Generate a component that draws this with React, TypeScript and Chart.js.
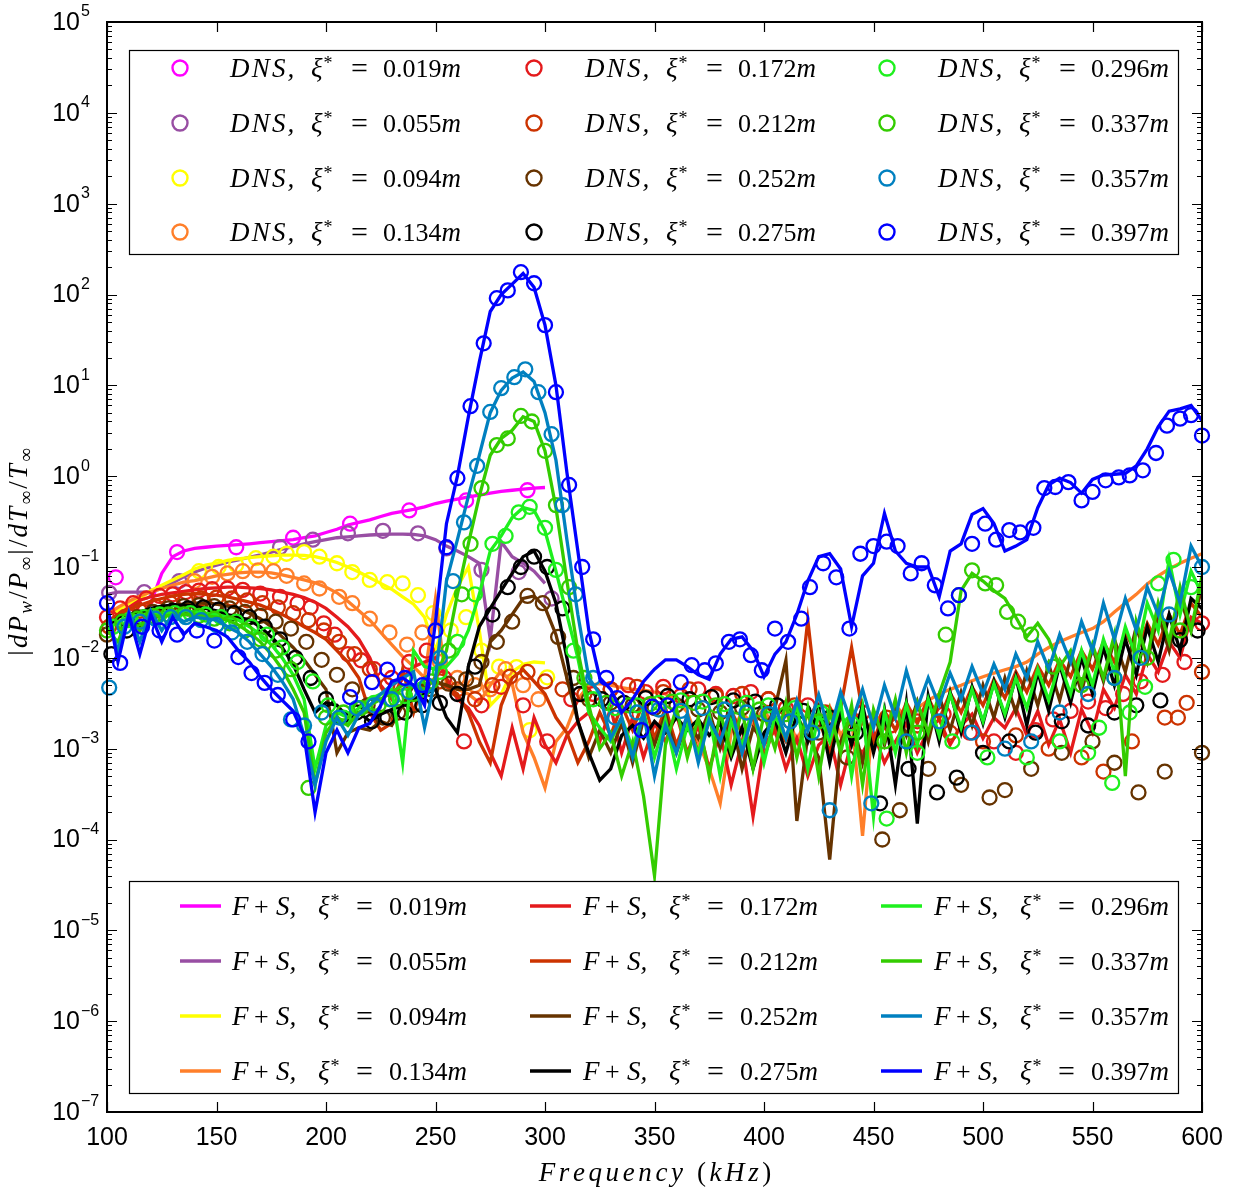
import { useEffect, useRef } from 'react';
import { Chart, registerables } from 'chart.js';

Chart.register(...registerables);

// Frequency grid (kHz) shared by the F+S curves
const FREQ_KHZ = [
  100, 105, 110, 115, 120, 125, 130, 135, 140, 145, 150, 155, 160, 165, 170, 175, 180, 185, 190, 195,
  200, 205, 210, 215, 220, 225, 230, 235, 240, 245, 250, 255, 260, 265, 270, 275, 280, 285, 290, 295,
  300, 305, 310, 315, 320, 325, 330, 335, 340, 345, 350, 355, 360, 365, 370, 375, 380, 385, 390, 395,
  400, 405, 410, 415, 420, 425, 430, 435, 440, 445, 450, 455, 460, 465, 470, 475, 480, 485, 490, 495,
  500, 505, 510, 515, 520, 525, 530, 535, 540, 545, 550, 555, 560, 565, 570, 575, 580, 585, 590, 595,
  600,
];

// F+S spectra |dPw/Pinf|/dTinf/Tinf, one value per FREQ_KHZ entry (shorter curves stop early)
const FS_019 = [
  0.03, 0.034, 0.032, 0.02, 0.04, 0.085, 0.13, 0.15, 0.16, 0.165, 0.17, 0.173, 0.176, 0.18, 0.185, 0.19,
  0.195, 0.2, 0.21, 0.22, 0.24, 0.26, 0.29, 0.31, 0.33, 0.36, 0.39, 0.41, 0.43, 0.46, 0.5, 0.53, 0.56,
  0.59, 0.62, 0.65, 0.68, 0.7, 0.72, 0.74, 0.75,
];
const FS_055 = [
  0.05, 0.053, 0.053, 0.053, 0.053, 0.058, 0.067, 0.078, 0.088, 0.097, 0.105, 0.113, 0.12, 0.128, 0.136,
  0.146, 0.157, 0.168, 0.18, 0.19, 0.2, 0.21, 0.215, 0.22, 0.225, 0.228, 0.23, 0.23, 0.228, 0.22, 0.2,
  0.17, 0.15, 0.13, 0.11, 0.016, 0.19, 0.13, 0.11, 0.09, 0.066,
];
const FS_094 = [
  0.03, 0.033, 0.04, 0.045, 0.055, 0.063, 0.072, 0.082, 0.095, 0.105, 0.11, 0.118, 0.123, 0.127, 0.13,
  0.133, 0.135, 0.135, 0.134, 0.13, 0.122, 0.112, 0.1, 0.088, 0.076, 0.066, 0.057, 0.047, 0.039, 0.028,
  0.012, 0.03, 0.06, 0.1, 0.02, 0.003, 0.004, 0.007, 0.0085, 0.009, 0.0088,
];
const FS_134 = [
  0.03, 0.036, 0.042, 0.048, 0.053, 0.058, 0.063, 0.068, 0.071, 0.075, 0.08, 0.083, 0.086, 0.088, 0.088,
  0.086, 0.082, 0.077, 0.072, 0.067, 0.06, 0.052, 0.042, 0.033, 0.026, 0.019, 0.014, 0.0103, 0.008, 0.006,
  0.045, 0.005, 0.0045, 0.004, 0.0032, 0.005, 0.0072, 0.0052, 0.0015, 0.0008, 0.00037, 0.0012, 0.0017, 0.0035,
  0.005, 0.0052, 0.005, 0.0047, 0.0045, 0.0044, 0.0042, 0.004, 0.0035, 0.0025, 0.0012, 0.0006, 0.00025,
  0.0015, 0.0025, 0.0018, 0.0028, 0.0015, 0.0026, 0.0012, 0.0024, 0.0016, 0.0029, 0.0014, 0.0022, 0.00011,
  0.0025, 0.0018, 0.003, 0.0022, 0.0028, 0.0034, 0.004, 0.0045, 0.005, 0.0056, 0.0062, 0.0068, 0.0074,
  0.008, 0.009, 0.011, 0.013, 0.015, 0.017, 0.019, 0.021, 0.025, 0.032, 0.04, 0.05, 0.065, 0.08, 0.095,
  0.11, 0.125, 0.14,
];
const FS_172 = [
  0.02, 0.03, 0.036, 0.043, 0.047, 0.05, 0.052, 0.054, 0.056, 0.058, 0.059, 0.06, 0.06, 0.059, 0.058,
  0.056, 0.053, 0.05, 0.046, 0.041, 0.035, 0.028, 0.022, 0.016, 0.01, 0.005, 0.0035, 0.006, 0.008, 0.009,
  0.01, 0.006, 0.0035, 0.0028, 0.0018, 0.0009, 0.0005, 0.0017, 0.0006, 0.0022, 0.0011, 0.0007, 0.0014, 0.002,
  0.0025, 0.0012, 0.0028, 0.0009, 0.0022, 0.0008, 0.0019, 0.0012, 0.0024, 0.0009, 0.0018, 0.0006, 0.0015,
  0.0004, 0.0012, 0.00018, 0.0011, 0.0016, 0.0006, 0.0013, 0.0005, 0.0011, 0.0014, 0.0004, 0.0012, 0.0009,
  0.0015, 0.0007, 0.0012, 0.0019, 0.0009, 0.0016, 0.0021, 0.0011, 0.0018, 0.0024, 0.0013, 0.0022, 0.0017,
  0.0028, 0.0014, 0.0026, 0.0011, 0.0021, 0.0009, 0.0027, 0.0015, 0.0045, 0.0028, 0.0065, 0.004, 0.011,
  0.007, 0.015, 0.01, 0.028, 0.024,
];
const FS_212 = [
  0.025, 0.03, 0.034, 0.038, 0.042, 0.045, 0.048, 0.05, 0.051, 0.05, 0.049, 0.047, 0.044, 0.041, 0.038,
  0.034, 0.03, 0.026, 0.022, 0.019, 0.016, 0.012, 0.009, 0.006, 0.0025, 0.0016, 0.0019, 0.0075, 0.0025,
  0.006, 0.0055, 0.0048, 0.004, 0.0025, 0.0012, 0.0007, 0.003, 0.006, 0.0074, 0.0055, 0.004, 0.0022, 0.0015,
  0.0007, 0.0012, 0.0025, 0.0014, 0.003, 0.0016, 0.0033, 0.0013, 0.0028, 0.0011, 0.0023, 0.0009, 0.002,
  0.0012, 0.0026, 0.0015, 0.0022, 0.0008, 0.0018, 0.0012, 0.0021, 0.026, 0.0022, 0.0009, 0.0028, 0.013,
  0.0025, 0.0012, 0.0026, 0.0016, 0.0032, 0.0019, 0.0036, 0.0021, 0.0041, 0.0025, 0.0048, 0.003, 0.0058,
  0.0036, 0.007, 0.0042, 0.0082, 0.005, 0.0095, 0.0062, 0.012, 0.0075, 0.015, 0.009, 0.019, 0.011, 0.024,
  0.014, 0.03, 0.018, 0.04, 0.028,
];
const FS_252 = [
  0.02, 0.028, 0.03, 0.032, 0.034, 0.036, 0.038, 0.039, 0.04, 0.04, 0.039, 0.037, 0.035, 0.031, 0.027,
  0.022, 0.017, 0.013, 0.0095, 0.0065, 0.0045, 0.0009, 0.0015, 0.0017, 0.0016, 0.002, 0.0018, 0.003, 0.005,
  0.005, 0.0055, 0.005, 0.0045, 0.0045, 0.005, 0.015, 0.02, 0.03, 0.045, 0.048, 0.036, 0.018, 0.006, 0.002,
  0.0008, 0.0016, 0.0009, 0.0019, 0.0007, 0.0021, 0.0011, 0.0024, 0.0009, 0.002, 0.0013, 0.0026, 0.001,
  0.0022, 0.0006, 0.0017, 0.0012, 0.0028, 0.0094, 0.00016, 0.0014, 0.0008, 0.00006, 0.0012, 0.0022, 0.0007,
  0.0025, 0.0011, 0.003, 0.0014, 0.0033, 0.0012, 0.0038, 0.0016, 0.0042, 0.0018, 0.005, 0.0022, 0.006,
  0.0025, 0.0072, 0.003, 0.0085, 0.0034, 0.01, 0.0042, 0.013, 0.0055, 0.016, 0.007, 0.022, 0.009, 0.03,
  0.012, 0.045, 0.02, 0.06,
];
const FS_275 = [
  0.02, 0.028, 0.03, 0.032, 0.035, 0.037, 0.038, 0.038, 0.037, 0.035, 0.033, 0.03, 0.028, 0.026, 0.022,
  0.017, 0.013, 0.0085, 0.0045, 0.0025, 0.0032, 0.003, 0.0022, 0.0025, 0.002, 0.0024, 0.0027, 0.003,
  0.0035, 0.004, 0.0045, 0.0022, 0.0015, 0.008, 0.022, 0.035, 0.055, 0.085, 0.13, 0.15, 0.09, 0.04, 0.01,
  0.002, 0.0009, 0.00045, 0.0006, 0.0014, 0.0018, 0.0013, 0.002, 0.0015, 0.0022, 0.0016, 0.0021, 0.0014,
  0.0019, 0.0008, 0.0017, 0.0006, 0.0015, 0.0021, 0.0009, 0.0024, 0.0012, 0.0028, 0.0007, 0.0025, 0.0011,
  0.003, 0.0009, 0.0027, 0.0004, 0.0032, 0.00015, 0.0038, 0.0012, 0.0042, 0.0015, 0.0048, 0.0019, 0.0055,
  0.0022, 0.0062, 0.0018, 0.007, 0.0026, 0.0085, 0.0032, 0.01, 0.004, 0.013, 0.005, 0.016, 0.0065, 0.022,
  0.009, 0.03, 0.012, 0.045, 0.035,
];
const FS_296 = [
  0.02, 0.025, 0.028, 0.03, 0.03, 0.031, 0.032, 0.033, 0.032, 0.031, 0.03, 0.028, 0.026, 0.022, 0.018,
  0.014, 0.01, 0.0065, 0.0035, 0.0006, 0.0018, 0.0025, 0.0022, 0.0028, 0.0035, 0.004, 0.0045, 0.0007,
  0.012, 0.008, 0.0075, 0.008, 0.011, 0.02, 0.05, 0.15, 0.22, 0.35, 0.45, 0.42, 0.25, 0.09, 0.03, 0.01,
  0.0025, 0.0017, 0.0012, 0.0022, 0.001, 0.0026, 0.0008, 0.0021, 0.0006, 0.0018, 0.0009, 0.0024, 0.0005,
  0.002, 0.0011, 0.0028, 0.0007, 0.0023, 0.0013, 0.003, 0.0006, 0.0025, 0.0012, 0.0032, 0.0005, 0.0028,
  0.00018, 0.0026, 0.0009, 0.0031, 0.0011, 0.0035, 0.0014, 0.004, 0.0017, 0.0045, 0.002, 0.0052, 0.0024,
  0.006, 0.0028, 0.0075, 0.0034, 0.009, 0.004, 0.012, 0.005, 0.016, 0.007, 0.022, 0.01, 0.04, 0.02, 0.12,
  0.03, 0.09, 0.05,
];
const FS_337 = [
  0.02, 0.015, 0.03, 0.02, 0.03, 0.028, 0.03, 0.03, 0.03, 0.029, 0.028, 0.026, 0.023, 0.019, 0.015, 0.011,
  0.0075, 0.0045, 0.0025, 0.0004, 0.0015, 0.0022, 0.0018, 0.0025, 0.003, 0.0035, 0.0042, 0.005, 0.005,
  0.0045, 0.006, 0.012, 0.05, 0.18, 0.6, 1.7, 2.6, 3.2, 4.5, 4.0, 1.9, 0.45, 0.07, 0.012,
  0.003, 0.001, 0.0015, 0.0005, 0.0012, 0.0003, 0.00004, 0.0011, 0.0028, 0.0008, 0.0022, 0.0005, 0.0025,
  0.0009, 0.0027, 0.0006, 0.0024, 0.001, 0.0032, 0.0008, 0.0028, 0.0005, 0.0026, 0.0009, 0.003, 0.0004,
  0.0027, 0.0012, 0.0035, 0.0009, 0.0032, 0.0015, 0.004, 0.009, 0.055, 0.085, 0.07, 0.055, 0.045, 0.028,
  0.017, 0.024, 0.016, 0.008, 0.012, 0.005, 0.014, 0.006, 0.018, 0.0005, 0.025, 0.01, 0.04, 0.015, 0.06,
  0.02, 0.08,
];
const FS_357 = [
  0.03, 0.012, 0.032, 0.015, 0.033, 0.02, 0.03, 0.025, 0.028, 0.027, 0.026, 0.022, 0.019, 0.015, 0.011,
  0.008, 0.0055, 0.0035, 0.0014, 0.0004, 0.0012, 0.0022, 0.0014, 0.0024, 0.003, 0.004, 0.005, 0.006, 0.007,
  0.0017, 0.006, 0.07, 0.2, 0.6, 1.7, 5, 8.8, 12, 14, 11, 5, 1.5, 0.2, 0.03,
  0.006, 0.004, 0.0013, 0.0022, 0.0008, 0.0025, 0.0005, 0.0018, 0.0009, 0.0024, 0.0007, 0.0021, 0.0012,
  0.0028, 0.0009, 0.0025, 0.0011, 0.003, 0.0013, 0.0034, 0.0016, 0.0039, 0.0015, 0.0042, 0.0019, 0.0045,
  0.0017, 0.005, 0.0022, 0.0072, 0.0028, 0.006, 0.003, 0.0068, 0.0035, 0.008, 0.004, 0.0085, 0.0045, 0.011,
  0.006, 0.015, 0.0075, 0.018, 0.009, 0.025, 0.012, 0.04, 0.016, 0.045, 0.02, 0.06, 0.03, 0.09, 0.04, 0.17,
  0.1,
];
const FS_397 = [
  0.04, 0.009, 0.03, 0.011, 0.03, 0.015, 0.028, 0.018, 0.024, 0.022, 0.02, 0.017, 0.012, 0.009, 0.0062,
  0.0045, 0.0034, 0.0026, 0.0014, 0.0002, 0.0009, 0.0016, 0.0009, 0.0017, 0.0019, 0.003, 0.0055, 0.006,
  0.005, 0.003, 0.025, 0.3, 1.0, 4.5, 18, 65, 100, 130, 170, 120, 46, 10, 1.1, 0.15,
  0.02, 0.006, 0.0045, 0.0025, 0.0035, 0.0055, 0.0075, 0.0095, 0.0095, 0.008, 0.0065, 0.0058, 0.011, 0.016,
  0.017, 0.012, 0.0062, 0.011, 0.015, 0.03, 0.07, 0.13, 0.14, 0.095, 0.022, 0.08, 0.11, 0.39, 0.15, 0.11,
  0.1, 0.1, 0.047, 0.15, 0.18, 0.38, 0.44, 0.3, 0.15, 0.17, 0.2, 0.45, 0.8, 0.95, 0.85, 0.65, 0.92, 1.03,
  1.05, 1.07, 1.3, 2.0, 3.5, 5.2, 5.5, 6.0, 4.1,
];

// DNS samples as [frequency kHz, value]
const DNS_019 = [[104, 0.077], [132, 0.146], [159, 0.165], [185, 0.21], [211, 0.3], [238, 0.42], [264, 0.54], [292, 0.7]];
const DNS_055 = [
  [101, 0.052], [117, 0.053], [133, 0.07], [179, 0.165], [194, 0.2], [210, 0.235], [226, 0.25], [242, 0.235],
  [255, 0.16], [271, 0.093], [288, 0.088], [303, 0.045],
];
const DNS_094 = [
  [142, 0.09], [151, 0.1], [159, 0.105], [168, 0.125], [176, 0.13], [182, 0.14], [190, 0.146], [197, 0.13],
  [205, 0.11], [212, 0.088], [220, 0.072], [228, 0.068], [235, 0.066], [242, 0.049], [249, 0.031], [257, 0.02],
  [264, 0.028], [271, 0.012], [279, 0.008], [287, 0.0079], [293, 0.0016], [301, 0.0061],
];
const DNS_134 = [
  [140, 0.07], [148, 0.078], [155, 0.085], [162, 0.09], [169, 0.092], [176, 0.09], [182, 0.08], [190, 0.066],
  [197, 0.058], [206, 0.047], [212, 0.04], [220, 0.027], [229, 0.019], [237, 0.014], [244, 0.019], [252, 0.009],
  [260, 0.006], [268, 0.005], [275, 0.0045], [282, 0.0075], [290, 0.005], [297, 0.0035],
];
const DNS_172 = [
  [100, 0.028], [106, 0.035], [112, 0.04], [118, 0.045], [124, 0.048], [130, 0.05], [136, 0.053], [142, 0.055],
  [148, 0.057], [155, 0.058], [162, 0.056], [170, 0.051], [179, 0.047], [187, 0.04], [193, 0.036], [199, 0.024],
  [204, 0.018], [210, 0.011], [216, 0.0094], [222, 0.0075], [230, 0.006], [238, 0.009], [246, 0.012], [254, 0.006],
  [263, 0.0012], [271, 0.003], [280, 0.0048], [290, 0.003], [301, 0.0012], [312, 0.0035], [322, 0.004], [330, 0.0045],
  [338, 0.005], [346, 0.0042], [354, 0.0048], [362, 0.0038], [370, 0.0045], [378, 0.004], [386, 0.0038], [394, 0.0042],
  [402, 0.0035], [410, 0.0028], [420, 0.003], [432, 0.0022], [445, 0.0025], [458, 0.0018], [470, 0.002], [482, 0.0024],
  [494, 0.0015], [505, 0.0012], [515, 0.0009], [524, 0.0016], [532, 0.0021], [540, 0.0026], [548, 0.0033], [556, 0.0028],
  [564, 0.004], [572, 0.0055], [582, 0.0065], [592, 0.009], [600, 0.024],
];
const DNS_212 = [
  [101, 0.022], [108, 0.028], [115, 0.033], [122, 0.037], [129, 0.04], [136, 0.043], [143, 0.045], [150, 0.046],
  [157, 0.045], [164, 0.043], [171, 0.04], [178, 0.036], [185, 0.031], [192, 0.026], [199, 0.02], [206, 0.015],
  [213, 0.011], [220, 0.0075], [228, 0.005], [236, 0.0038], [244, 0.0045], [252, 0.0055], [260, 0.0045], [268, 0.0035],
  [276, 0.005], [284, 0.0062], [292, 0.007], [300, 0.0055], [308, 0.0045], [318, 0.004], [330, 0.0045], [342, 0.0048],
  [354, 0.0042], [366, 0.0045], [378, 0.0038], [390, 0.004], [402, 0.0035], [414, 0.003], [428, 0.0025], [442, 0.002],
  [456, 0.0022], [470, 0.0018], [485, 0.0015], [500, 0.0012], [515, 0.0014], [530, 0.001], [545, 0.0008], [555, 0.00056],
  [568, 0.0012], [583, 0.0022], [589, 0.0022], [593, 0.0032], [600, 0.007],
];
const DNS_252 = [
  [100, 0.018], [107, 0.025], [114, 0.028], [121, 0.032], [128, 0.035], [135, 0.037], [142, 0.038], [149, 0.037],
  [156, 0.035], [163, 0.032], [170, 0.029], [177, 0.025], [184, 0.021], [191, 0.015], [198, 0.0095], [205, 0.0065],
  [212, 0.0045], [219, 0.003], [226, 0.0022], [233, 0.0025], [240, 0.003], [248, 0.0045], [256, 0.0052], [264, 0.0058],
  [271, 0.009], [278, 0.015], [285, 0.025], [292, 0.048], [299, 0.04], [306, 0.017], [313, 0.006], [320, 0.0035],
  [330, 0.0032], [340, 0.003], [350, 0.0028], [360, 0.003], [370, 0.0027], [380, 0.0025], [390, 0.0028], [400, 0.0024],
  [412, 0.002], [425, 0.0015], [438, 0.0008], [454, 0.0001], [462, 0.00021], [475, 0.0006], [490, 0.0004], [503, 0.00029],
  [510, 0.00035], [522, 0.0006], [536, 0.0009], [550, 0.0012], [560, 0.0007], [571, 0.00033], [583, 0.00056], [600, 0.0009],
];
const DNS_275 = [
  [102, 0.011], [109, 0.02], [116, 0.026], [123, 0.03], [130, 0.033], [137, 0.035], [144, 0.036], [151, 0.034],
  [158, 0.031], [165, 0.028], [172, 0.022], [179, 0.016], [186, 0.01], [193, 0.006], [200, 0.0035], [207, 0.0022],
  [214, 0.0025], [221, 0.002], [228, 0.0022], [236, 0.0025], [244, 0.003], [252, 0.0032], [260, 0.004], [268, 0.008],
  [276, 0.03], [283, 0.06], [289, 0.1], [295, 0.13], [301, 0.1], [308, 0.035], [316, 0.004], [326, 0.0035],
  [336, 0.0032], [346, 0.0036], [356, 0.0038], [366, 0.0035], [376, 0.0037], [386, 0.0034], [396, 0.0033], [406, 0.003],
  [418, 0.0026], [430, 0.0022], [442, 0.0015], [453, 0.00025], [466, 0.0006], [479, 0.00033], [488, 0.00048], [500, 0.0009],
  [512, 0.0012], [524, 0.0015], [536, 0.002], [548, 0.0018], [560, 0.0025], [570, 0.003], [581, 0.0034], [590, 0.0157],
  [598, 0.02],
];
const DNS_296 = [
  [103, 0.022], [110, 0.026], [117, 0.028], [124, 0.03], [131, 0.031], [138, 0.031], [145, 0.03], [152, 0.028],
  [159, 0.025], [166, 0.022], [173, 0.018], [180, 0.013], [187, 0.009], [194, 0.0055], [201, 0.003], [208, 0.0022],
  [215, 0.0028], [222, 0.0032], [229, 0.0035], [236, 0.0038], [244, 0.0045], [252, 0.007], [260, 0.015], [268, 0.05],
  [276, 0.18], [282, 0.22], [288, 0.4], [293, 0.46], [300, 0.27], [305, 0.093], [313, 0.012], [322, 0.0035],
  [332, 0.0028], [342, 0.003], [352, 0.0032], [362, 0.0034], [372, 0.0033], [382, 0.0031], [392, 0.0032], [402, 0.003],
  [414, 0.0028], [426, 0.0025], [440, 0.0019], [456, 0.00017], [470, 0.0009], [486, 0.0012], [502, 0.0008], [520, 0.0008],
  [535, 0.0012], [548, 0.0009], [553, 0.0017], [559, 0.00042], [567, 0.0025], [574, 0.0048], [580, 0.066], [587, 0.12],
  [595, 0.06],
];
const DNS_337 = [
  [100, 0.02], [107, 0.025], [114, 0.027], [121, 0.029], [128, 0.03], [135, 0.03], [142, 0.029], [149, 0.027],
  [156, 0.024], [163, 0.02], [170, 0.016], [177, 0.012], [184, 0.0075], [192, 0.00037], [200, 0.0022], [208, 0.0025],
  [216, 0.0028], [224, 0.003], [232, 0.0035], [240, 0.004], [248, 0.0055], [256, 0.012], [262, 0.05], [266, 0.18],
  [271, 0.74], [278, 2.2], [283, 2.6], [289, 4.6], [294, 4.0], [300, 1.9], [305, 0.48], [311, 0.06],
  [318, 0.006], [328, 0.0032], [338, 0.003], [348, 0.0031], [358, 0.0033], [368, 0.0032], [378, 0.003], [388, 0.0029],
  [398, 0.0027], [410, 0.0024], [425, 0.002], [440, 0.0016], [455, 0.0012], [470, 0.0015], [483, 0.018], [489, 0.049],
  [495, 0.092], [501, 0.066], [506, 0.063], [511, 0.032], [516, 0.025], [522, 0.018], [532, 0.008], [545, 0.005],
  [560, 0.006], [575, 0.01], [590, 0.02],
];
const DNS_357 = [
  [101, 0.0047], [108, 0.022], [115, 0.025], [122, 0.027], [129, 0.028], [136, 0.028], [143, 0.026], [150, 0.023],
  [157, 0.019], [164, 0.015], [171, 0.011], [178, 0.0065], [184, 0.0021], [190, 0.0018], [198, 0.0025], [206, 0.0022],
  [214, 0.0028], [222, 0.003], [230, 0.0035], [238, 0.0042], [246, 0.005], [252, 0.01], [258, 0.07], [263, 0.31],
  [269, 1.3], [275, 5.1], [280, 9.3], [286, 12.3], [291, 15], [297, 8.4], [303, 2.9], [308, 0.48],
  [314, 0.05], [322, 0.006], [332, 0.0022], [342, 0.0025], [352, 0.0027], [362, 0.0026], [372, 0.0028], [382, 0.0027],
  [392, 0.0025], [402, 0.0024], [412, 0.002], [422, 0.0015], [430, 0.00021], [449, 0.00025], [465, 0.0012], [480, 0.002],
  [495, 0.0015], [510, 0.001], [522, 0.0012], [535, 0.0025], [548, 0.004], [560, 0.006], [572, 0.01], [585, 0.03],
  [600, 0.1],
];
const DNS_397 = [
  [100, 0.04], [106, 0.0088], [116, 0.022], [124, 0.02], [132, 0.018], [141, 0.02], [149, 0.0155], [160, 0.0102],
  [166, 0.0068], [172, 0.0053], [178, 0.0039], [185, 0.0021], [192, 0.0012], [211, 0.0037], [221, 0.0054], [228, 0.0074],
  [236, 0.006], [244, 0.005], [250, 0.02], [255, 0.165], [260, 0.95], [266, 5.9], [272, 29], [278, 91],
  [283, 111], [289, 176], [295, 133], [300, 46], [305, 8.4], [311, 0.8], [317, 0.1], [322, 0.016],
  [328, 0.006], [333, 0.0036], [344, 0.0016], [349, 0.0029], [356, 0.003], [362, 0.0054], [367, 0.0083], [373, 0.0073],
  [378, 0.0087], [384, 0.015], [389, 0.016], [394, 0.0107], [399, 0.0073], [405, 0.021], [411, 0.015], [417, 0.027],
  [421, 0.06], [427, 0.11], [433, 0.077], [439, 0.021], [444, 0.14], [450, 0.17], [456, 0.19], [461, 0.17],
  [467, 0.085], [472, 0.11], [478, 0.063], [484, 0.035], [489, 0.049], [495, 0.18], [501, 0.3], [506, 0.2],
  [512, 0.255], [517, 0.24], [523, 0.27], [528, 0.74], [533, 0.76], [539, 0.86], [545, 0.54], [550, 0.67],
  [556, 0.9], [562, 0.97], [567, 1.02], [573, 1.16], [579, 1.8], [584, 3.6], [590, 4.3], [595, 4.7],
  [600, 2.8],
];

// Streamwise stations (xi*, in metres) in legend order
const STATION_LABELS = ['0.019', '0.055', '0.094', '0.134', '0.172', '0.212', '0.252', '0.275', '0.296', '0.337', '0.357', '0.397'];
const STATION_COLORS = [
  '#FF00FF', '#984EA3', '#FFFF00', '#FF7F2A', '#E41A1C', '#CC3300',
  '#663300', '#000000', '#1EF01E', '#33CC00', '#0080C0', '#0000FF',
];
const FS_SERIES = [FS_019, FS_055, FS_094, FS_134, FS_172, FS_212, FS_252, FS_275, FS_296, FS_337, FS_357, FS_397];
const DNS_SERIES = [DNS_019, DNS_055, DNS_094, DNS_134, DNS_172, DNS_212, DNS_252, DNS_275, DNS_296, DNS_337, DNS_357, DNS_397];

const X_TICKS = [100, 150, 200, 250, 300, 350, 400, 450, 500, 550, 600];
const Y_DECADES = [-7, -6, -5, -4, -3, -2, -1, 0, 1, 2, 3, 4, 5];

const SANS = '"Liberation Sans", Arial, sans-serif';
const SERIF = '"Liberation Serif", "Times New Roman", serif';

type Seg = { t: string; it?: boolean; size?: number; dy?: number };

// Text runs drawn character by character with extra tracking (math-italic look).
function runWidth(ctx: CanvasRenderingContext2D, segs: Seg[], base: number, track: number) {
  let w = 0;
  let n = 0;
  for (const s of segs) {
    ctx.font = `${s.it ? 'italic ' : ''}${s.size ?? base}px ${SERIF}`;
    for (const ch of s.t) {
      w += ctx.measureText(ch).width;
      n++;
    }
  }
  return w + track * (n - 1);
}
function drawRun(ctx: CanvasRenderingContext2D, segs: Seg[], x: number, y: number, base: number, track: number) {
  let cx = x;
  for (const s of segs) {
    ctx.font = `${s.it ? 'italic ' : ''}${s.size ?? base}px ${SERIF}`;
    for (const ch of s.t) {
      ctx.fillText(ch, cx, y + (s.dy ?? 0));
      cx += ctx.measureText(ch).width + track;
    }
  }
}

function drawLegendText(ctx: CanvasRenderingContext2D, kind: 'DNS' | 'FS', x0: number, yc: number, value: string) {
  const by = yc + 9;
  const it = `italic 27px ${SERIF}`;
  const up = `26px ${SERIF}`;
  ctx.fillStyle = '#000';
  ctx.textAlign = 'left';
  ctx.textBaseline = 'alphabetic';
  let offXi: number;
  let offEq: number;
  let offVal: number;
  if (kind === 'DNS') {
    drawRun(ctx, [{ t: 'DNS,', it: true, size: 27 }], x0, by, 27, 2.2);
    offXi = 81;
    offEq = 121;
    offVal = 153;
  } else {
    ctx.font = it;
    ctx.fillText('F', x0, by);
    ctx.font = up;
    ctx.fillText('+', x0 + 22, by);
    ctx.font = it;
    ctx.fillText('S,', x0 + 44, by);
    offXi = 86;
    offEq = 124;
    offVal = 157;
  }
  ctx.font = it;
  ctx.fillText('\u03BE', x0 + offXi, by);
  const wXi = ctx.measureText('\u03BE').width;
  ctx.font = `18px ${SERIF}`;
  ctx.fillText('*', x0 + offXi + wXi + 1, by - 8);
  ctx.font = `30px ${SERIF}`;
  ctx.fillText('=', x0 + offEq, by + 1);
  ctx.font = up;
  ctx.fillText(value, x0 + offVal, by);
  const wv = ctx.measureText(value).width;
  ctx.font = it;
  ctx.fillText('m', x0 + offVal + wv, by);
}

const decorations = {
  id: 'frameLegendsLabels',
  beforeDraw(chart: Chart) {
    const { ctx, width, height } = chart;
    ctx.save();
    ctx.fillStyle = '#fff';
    ctx.fillRect(0, 0, width, height);
    ctx.restore();
  },
  afterDraw(chart: Chart) {
    const { ctx, chartArea: a } = chart;
    const xs = chart.scales.x;
    const ys = chart.scales.y;
    ctx.save();

    // Legend boxes
    const colsDNS = [{ m: 180, t: 230 }, { m: 534, t: 585 }, { m: 887, t: 938 }];
    const rowsDNS = [68, 123, 178, 232];
    const colsFS = [{ m0: 180, m1: 221, t: 232 }, { m0: 530, m1: 571, t: 583 }, { m0: 881, m1: 922, t: 934 }];
    const rowsFS = [906, 961, 1016, 1071];
    ctx.fillStyle = '#fff';
    ctx.strokeStyle = '#000';
    ctx.lineWidth = 1.2;
    ctx.fillRect(129, 50, 1049, 204);
    ctx.strokeRect(129.5, 50.5, 1049, 204);
    ctx.fillRect(129, 881, 1049, 212);
    ctx.strokeRect(129.5, 881.5, 1049, 212);

    STATION_LABELS.forEach((lab, i) => {
      const c = Math.floor(i / 4);
      const r = i % 4;
      ctx.strokeStyle = STATION_COLORS[i];
      ctx.lineWidth = 2.4;
      ctx.beginPath();
      ctx.arc(colsDNS[c].m, rowsDNS[r], 7.5, 0, Math.PI * 2);
      ctx.stroke();
      drawLegendText(ctx, 'DNS', colsDNS[c].t, rowsDNS[r], lab);
      ctx.strokeStyle = STATION_COLORS[i];
      ctx.lineWidth = 3.5;
      ctx.beginPath();
      ctx.moveTo(colsFS[c].m0, rowsFS[r]);
      ctx.lineTo(colsFS[c].m1, rowsFS[r]);
      ctx.stroke();
      drawLegendText(ctx, 'FS', colsFS[c].t, rowsFS[r], lab);
    });

    // Frame
    ctx.strokeStyle = '#000';
    ctx.lineWidth = 2;
    ctx.strokeRect(a.left, a.top, a.right - a.left, a.bottom - a.top);

    // Ticks (inward, all sides)
    ctx.lineWidth = 1.2;
    ctx.beginPath();
    for (const t of X_TICKS) {
      const px = Math.round(xs.getPixelForValue(t)) + 0.5;
      ctx.moveTo(px, a.bottom);
      ctx.lineTo(px, a.bottom - 10);
      ctx.moveTo(px, a.top);
      ctx.lineTo(px, a.top + 10);
    }
    for (const e of Y_DECADES) {
      const py = Math.round(ys.getPixelForValue(Math.pow(10, e))) + 0.5;
      ctx.moveTo(a.left, py);
      ctx.lineTo(a.left + 10, py);
      ctx.moveTo(a.right, py);
      ctx.lineTo(a.right - 10, py);
      if (e < 5) {
        for (let m = 2; m <= 9; m++) {
          const pm = Math.round(ys.getPixelForValue(m * Math.pow(10, e))) + 0.5;
          ctx.moveTo(a.left, pm);
          ctx.lineTo(a.left + 5, pm);
          ctx.moveTo(a.right, pm);
          ctx.lineTo(a.right - 5, pm);
        }
      }
    }
    ctx.stroke();

    // Tick labels
    ctx.fillStyle = '#000';
    ctx.textBaseline = 'middle';
    ctx.font = `25px ${SANS}`;
    ctx.textAlign = 'center';
    for (const t of X_TICKS) {
      ctx.fillText(String(t), xs.getPixelForValue(t), a.bottom + 26);
    }
    for (const e of Y_DECADES) {
      const py = ys.getPixelForValue(Math.pow(10, e));
      ctx.font = `25px ${SANS}`;
      ctx.textAlign = 'right';
      ctx.fillText('10', 80, py + 1);
      ctx.font = `16px ${SANS}`;
      ctx.textAlign = 'left';
      ctx.fillText(e < 0 ? `\u2212${-e}` : String(e), 81, py - 10);
    }

    // Axis titles
    ctx.textBaseline = 'alphabetic';
    ctx.textAlign = 'left';
    const xTitle: Seg[] = [
      { t: 'Frequency', it: true },
      { t: ' (' },
      { t: 'kHz', it: true },
      { t: ')' },
    ];
    const xTrack = 3.6;
    const xw = runWidth(ctx, xTitle, 27, xTrack);
    drawRun(ctx, xTitle, 655 - xw / 2, 1181, 27, xTrack);

    const yTitle: Seg[] = [
      { t: '|' },
      { t: 'dP', it: true },
      { t: 'w', it: true, size: 19, dy: 5 },
      { t: '/' },
      { t: 'P', it: true },
      { t: '\u221E', size: 19, dy: 5 },
      { t: '|/' },
      { t: 'dT', it: true },
      { t: '\u221E', size: 19, dy: 5 },
      { t: '/' },
      { t: 'T', it: true },
      { t: '\u221E', size: 19, dy: 5 },
    ];
    const yTrack = 2.2;
    const yw = runWidth(ctx, yTitle, 27, yTrack);
    ctx.translate(27, 552);
    ctx.rotate(-Math.PI / 2);
    drawRun(ctx, yTitle, -yw / 2, 0, 27, yTrack);

    ctx.restore();
  },
};

export default function App() {
  const canvasRef = useRef<HTMLCanvasElement | null>(null);

  useEffect(() => {
    const canvas = canvasRef.current;
    if (!canvas) return;

    const datasets: any[] = [];
    // Last station first so it is drawn on top
    for (let i = STATION_LABELS.length - 1; i >= 0; i--) {
      const color = STATION_COLORS[i];
      datasets.push({
        label: `F+S ${STATION_LABELS[i]}`,
        data: FS_SERIES[i].map((v, k) => ({ x: FREQ_KHZ[k], y: v })),
        showLine: true,
        borderColor: color,
        borderWidth: 3.3,
        pointRadius: 0,
        tension: 0,
        fill: false,
      });
      datasets.push({
        label: `DNS ${STATION_LABELS[i]}`,
        data: DNS_SERIES[i].map(([x, y]) => ({ x, y })),
        showLine: false,
        pointStyle: 'circle',
        pointRadius: 7,
        pointBorderWidth: 2.3,
        pointBorderColor: color,
        pointBackgroundColor: 'rgba(0,0,0,0)',
        clip: false,
      });
    }

    const chart = new Chart(canvas, {
      type: 'scatter',
      data: { datasets },
      options: {
        responsive: false,
        animation: false,
        events: [],
        layout: { padding: { left: 107, top: 22, right: 34, bottom: 79 } },
        plugins: { legend: { display: false }, tooltip: { enabled: false } },
        scales: {
          x: { type: 'linear', min: 100, max: 600, display: false },
          y: { type: 'logarithmic', min: 1e-7, max: 1e5, display: false },
        },
      },
      plugins: [decorations],
    });

    return () => chart.destroy();
  }, []);

  return (
    <div style={{ position: 'absolute', left: 0, top: 0, width: 1236, height: 1191, background: '#fff' }}>
      <canvas ref={canvasRef} width={1236} height={1191} />
    </div>
  );
}
